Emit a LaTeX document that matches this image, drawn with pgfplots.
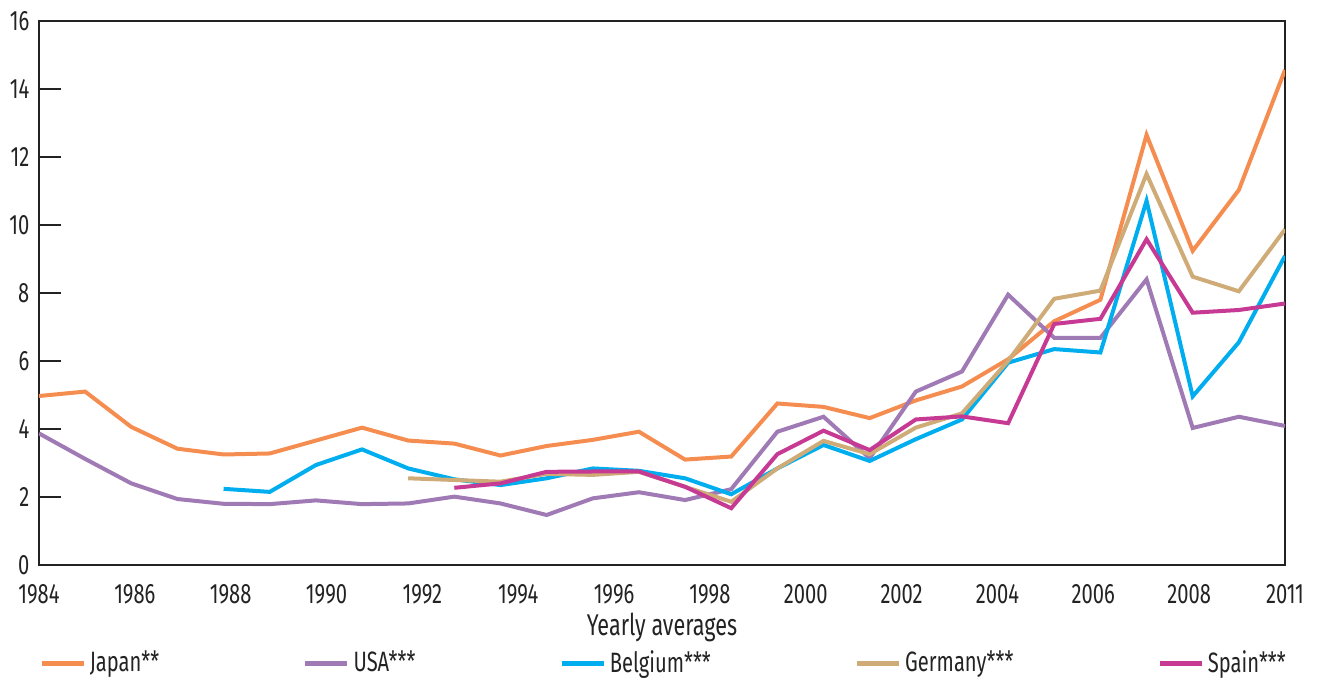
\documentclass[border=0pt]{standalone}
\usepackage{pgfplots}
\pgfplotsset{compat=1.18}
\usepackage{fontspec}
\setmainfont[FakeStretch=0.72]{Fira Sans}
\definecolor{cjapan}{RGB}{246,141,80}
\definecolor{cusa}{RGB}{160,122,180}
\definecolor{cbel}{RGB}{0,174,239}
\definecolor{cger}{RGB}{207,171,120}
\definecolor{cspa}{RGB}{198,58,148}
\definecolor{txt}{RGB}{35,35,35}
\begin{document}
\fontsize{14pt}{16pt}\selectfont
\begin{tikzpicture}
\path[use as bounding box] (-19.5pt,-57pt) rectangle (640pt,282.5pt);
\begin{axis}[
  scale only axis, width=623pt, height=272pt,
  at={(0,0)}, anchor=south west,
  xmin=1984, xmax=2011, ymin=0, ymax=16,
  axis line style={draw=txt, line width=0.8pt},
  tick pos=left, tick align=inside,
  xtick=\empty,
  minor xtick={1984,...,2011},
  minor tick length=8pt,
  major tick length=11pt,
  every tick/.style={draw=txt, line width=0.8pt},
  extra x ticks={1984,1986.0769,1988.1538,1990.2308,1992.3077,1994.3846,1996.4615,1998.5385,2000.6154,2002.6923,2004.7692,2006.8462,2008.9231,2011},
  extra x tick labels={1984,1986,1988,1990,1992,1994,1996,1998,2000,2002,2004,2006,2008,2011},
  extra x tick style={major tick length=0pt},
  ytick={0,2,...,16},
  yticklabel style={/pgf/number format/assume math mode=true, font=\fontsize{14pt}{16pt}\selectfont, text=txt},
  xticklabel style={/pgf/number format/assume math mode=true, font=\fontsize{14pt}{16pt}\selectfont, text=txt, yshift=-5pt},
  xlabel={Yearly averages},
  xlabel style={font=\fontsize{15pt}{17pt}\selectfont, text=txt, yshift=5pt},
  legend columns=5,
  legend style={at={(0,0)}, anchor=north west, yshift=-40.5pt, draw=none, fill=none,
    inner sep=0pt, font=\fontsize{14pt}{16pt}\selectfont, text=txt,
    /tikz/every even column/.append style={column sep=70pt}},
  legend image code/.code={\draw[#1, line width=2.2pt] (0pt,0pt) -- (21pt,0pt);},
  every axis plot/.append style={line width=2pt},
]
\addplot[cjapan] coordinates {
(1984,4.97)(1985,5.10)(1986,4.06)(1987,3.42)(1988,3.25)(1989,3.28)(1990,3.66)(1991,4.04)
(1992,3.66)(1993,3.57)(1994,3.22)(1995,3.50)(1996,3.68)(1997,3.92)(1998,3.10)(1999,3.19)
(2000,4.75)(2001,4.65)(2002,4.32)(2003,4.84)(2004,5.25)(2005,6.05)(2006,7.17)(2007,7.80)
(2008,12.65)(2009,9.24)(2010,11.03)(2011,14.56)};
\addlegendentry{Japan**}
\addplot[cusa] coordinates {
(1984,3.87)(1985,3.12)(1986,2.40)(1987,1.94)(1988,1.80)(1989,1.79)(1990,1.90)(1991,1.79)
(1992,1.81)(1993,2.01)(1994,1.81)(1995,1.47)(1996,1.96)(1997,2.14)(1998,1.91)(1999,2.23)
(2000,3.92)(2001,4.36)(2002,3.14)(2003,5.10)(2004,5.69)(2005,7.95)(2006,6.68)(2007,6.68)
(2008,8.40)(2009,4.03)(2010,4.36)(2011,4.09)};
\addlegendentry{USA***}
\addplot[cbel] coordinates {
(1988,2.24)(1989,2.15)(1990,2.94)(1991,3.40)(1992,2.84)(1993,2.52)(1994,2.35)(1995,2.55)
(1996,2.84)(1997,2.77)(1998,2.55)(1999,2.08)(2000,2.84)(2001,3.53)(2002,3.06)(2003,3.70)
(2004,4.28)(2005,5.95)(2006,6.35)(2007,6.25)(2008,10.71)(2009,4.96)(2010,6.55)(2011,9.09)};
\addlegendentry{Belgium***}
\addplot[cger] coordinates {
(1992,2.55)(1993,2.50)(1994,2.45)(1995,2.68)(1996,2.65)(1997,2.74)(1998,2.30)(1999,1.86)
(2000,2.84)(2001,3.65)(2002,3.26)(2003,4.04)(2004,4.46)(2005,6.00)(2006,7.83)(2007,8.07)
(2008,11.50)(2009,8.48)(2010,8.05)(2011,9.87)};
\addlegendentry{Germany***}
\addplot[cspa] coordinates {
(1993,2.27)(1994,2.40)(1995,2.74)(1996,2.75)(1997,2.75)(1998,2.30)(1999,1.67)(2000,3.26)
(2001,3.95)(2002,3.38)(2003,4.28)(2004,4.37)(2005,4.17)(2006,7.09)(2007,7.24)(2008,9.58)
(2009,7.42)(2010,7.50)(2011,7.69)};
\addlegendentry{Spain***}
\end{axis}
\end{tikzpicture}
\end{document}
